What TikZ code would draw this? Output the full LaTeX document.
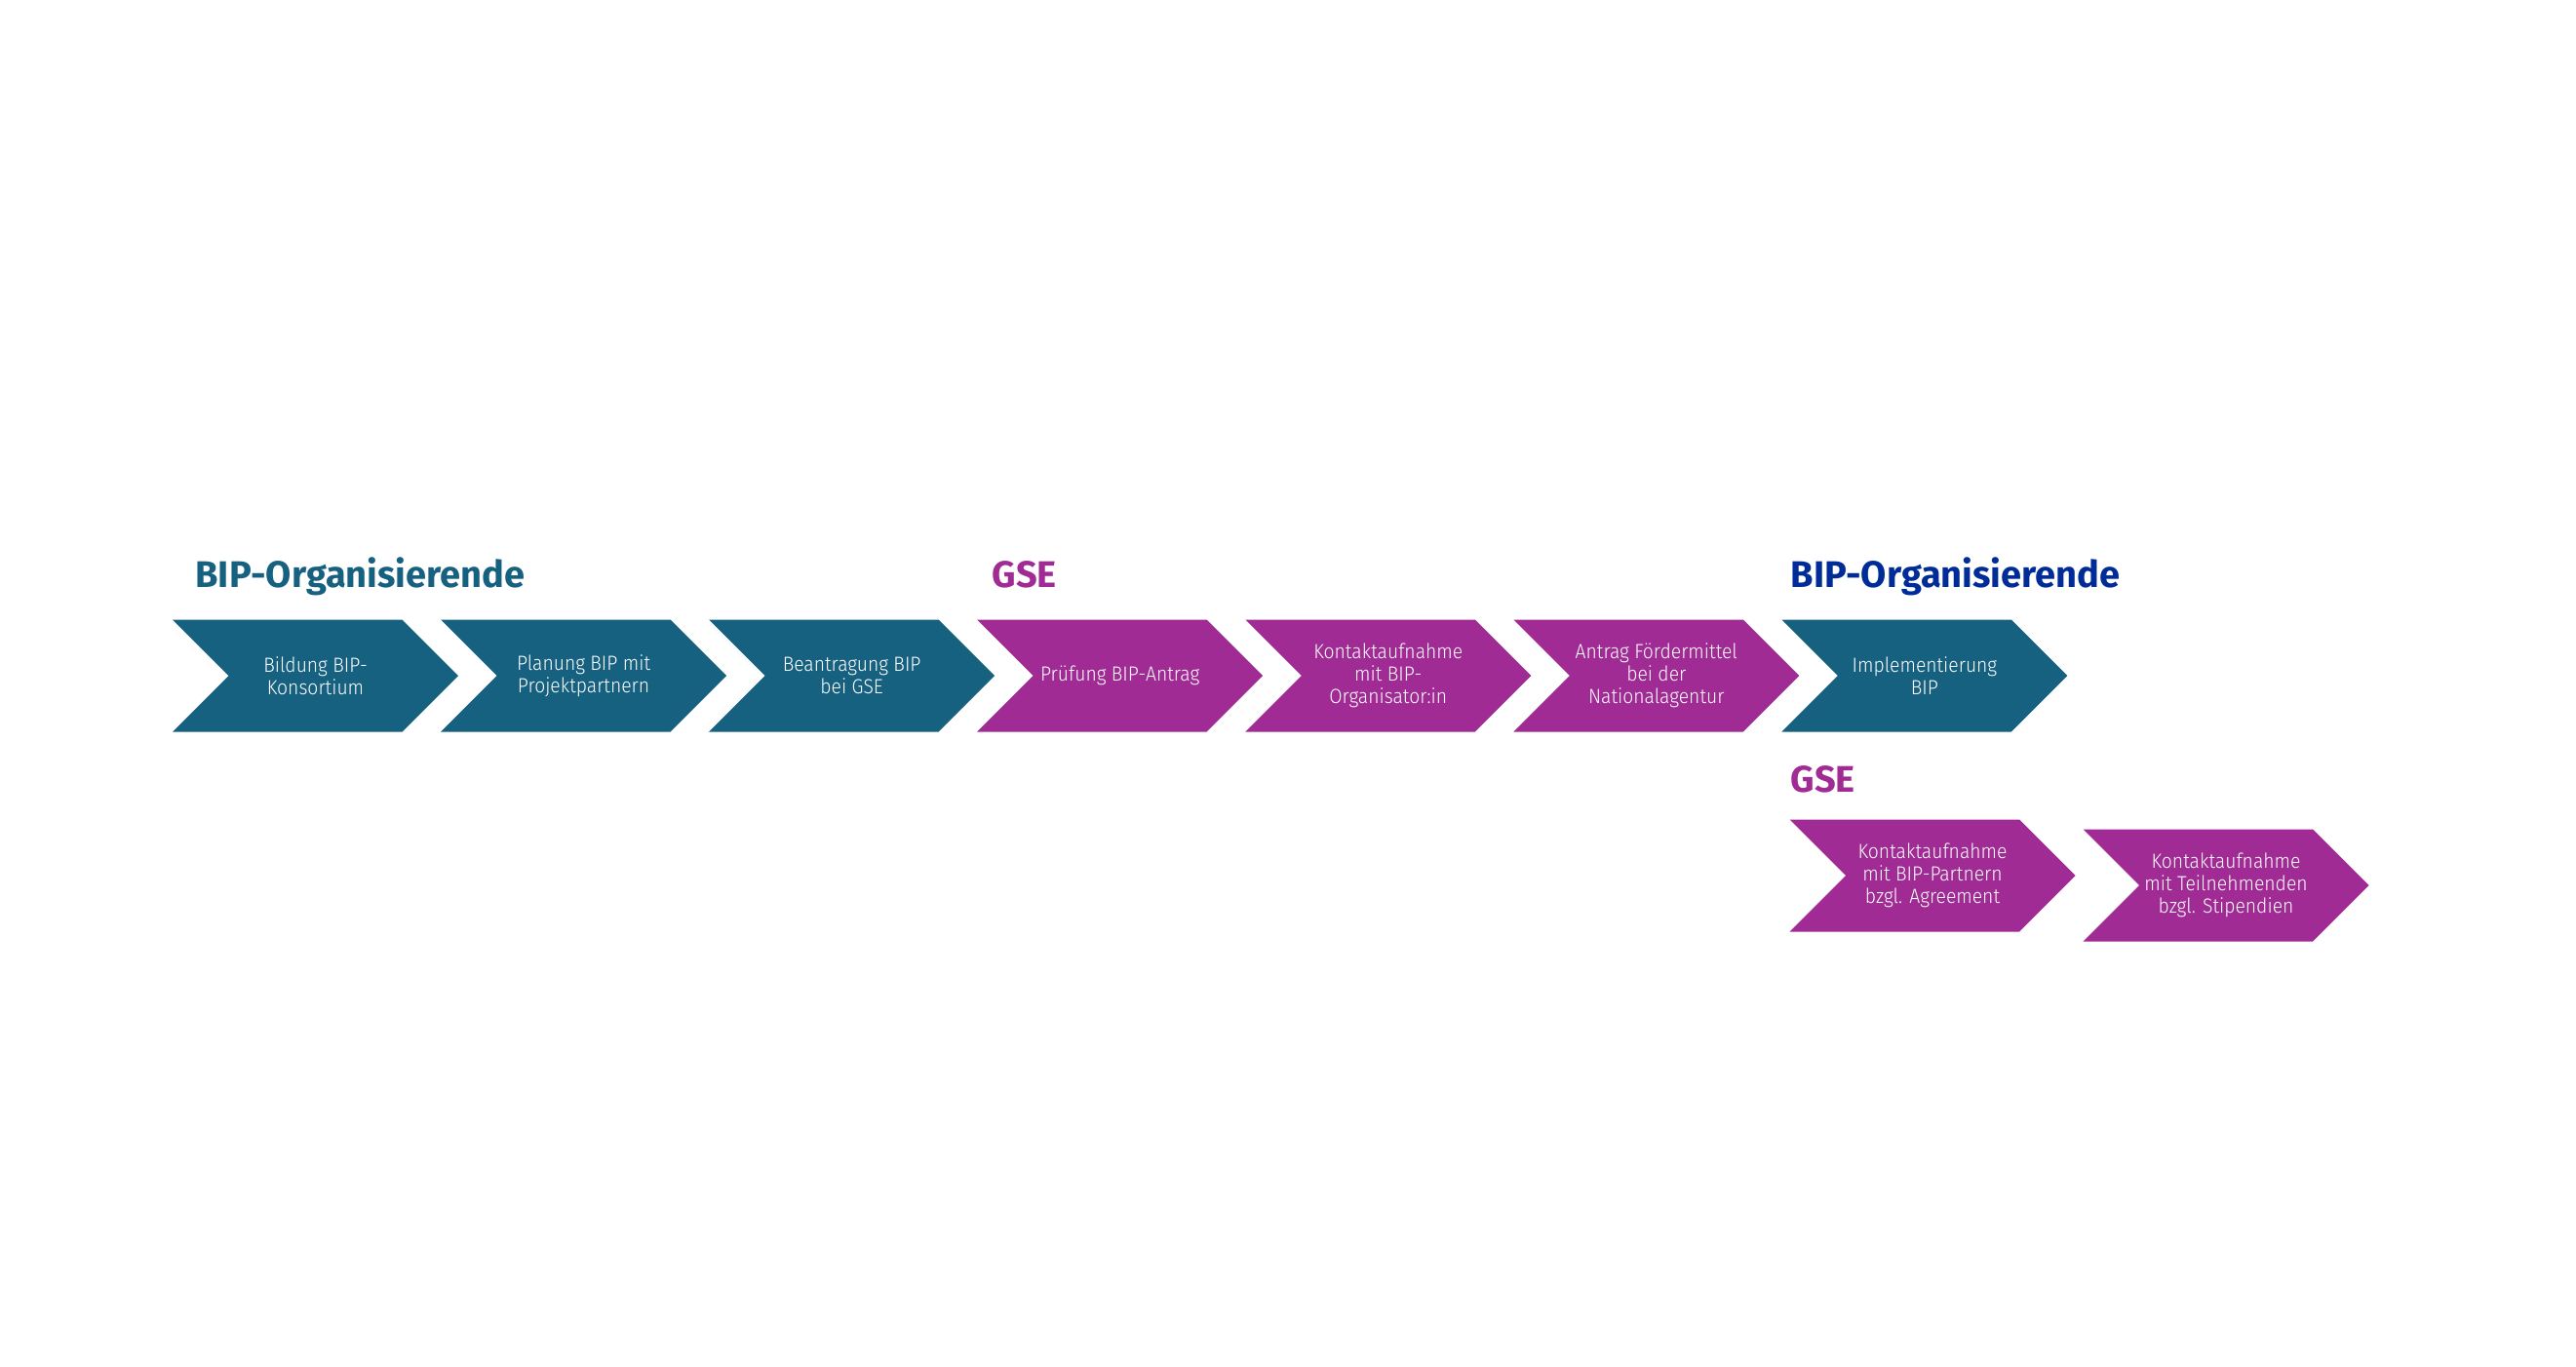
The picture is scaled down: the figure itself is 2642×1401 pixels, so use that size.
\documentclass[tikz,border=0pt]{standalone}
\usepackage{fontspec}
\setmainfont{Fira Sans}
\newfontfamily\chevfont[FakeStretch=0.92]{Fira Sans Light}
\usetikzlibrary{positioning,shapes.symbols}
\definecolor{bipteal}{RGB}{22,96,128}
\definecolor{gsepurple}{RGB}{160,43,148}
\definecolor{bipnavy}{RGB}{0,44,152}

\begin{document}
\begin{tikzpicture}[x=1pt, y=-1pt,
  chev/.style={signal, signal to=east, signal from=west, signal pointer angle=90,
    minimum width=293pt, minimum height=115pt, inner sep=0pt, text=white,
    align=center, font=\chevfont\fontsize{21}{23}\selectfont},
  tealchev/.style={chev, fill=bipteal},
  purplechev/.style={chev, fill=gsepurple},
  rolelabel/.style={anchor=base west, font=\bfseries\fontsize{38}{42}\selectfont},
  node distance=39pt]
\useasboundingbox (0,0) rectangle (2642,1401);
% -- Titles --
\node[rolelabel, bipteal] (orgA) at (197,602) {BIP-Organisierende};
\node[rolelabel, gsepurple] (gseA) at (1014,602) {GSE};
\node[rolelabel, bipnavy] (orgB) at (1833,602) {BIP-Organisierende};
% -- Top row --
\node[tealchev] (c1) at (323.5,693) {Bildung BIP-\\Konsortium};
\node[tealchev, right=of c1] (c2) {Planung BIP mit\\Projektpartnern};
\node[tealchev, right=of c2] (c3) {Beantragung BIP\\bei GSE};
\node[purplechev, right=of c3] (c4) {Prüfung BIP-Antrag};
\node[purplechev, right=of c4] (c5) {Kontaktaufnahme\\mit BIP-\\Organisator:in};
\node[purplechev, right=of c5] (c6) {Antrag Fördermittel\\bei der\\Nationalagentur};
\node[tealchev, right=of c6] (c7) {Implementierung\\BIP};
% -- Bottom row: GSE --
\node[rolelabel, gsepurple] (gseB) at (1833,812) {GSE};
\node[purplechev] (g1) at (1982,898) {Kontaktaufnahme\\mit BIP-Partnern\\bzgl. Agreement};
\node[purplechev] (g2) at (2283,908) {Kontaktaufnahme\\mit Teilnehmenden\\bzgl. Stipendien};
\end{tikzpicture}
\end{document}
